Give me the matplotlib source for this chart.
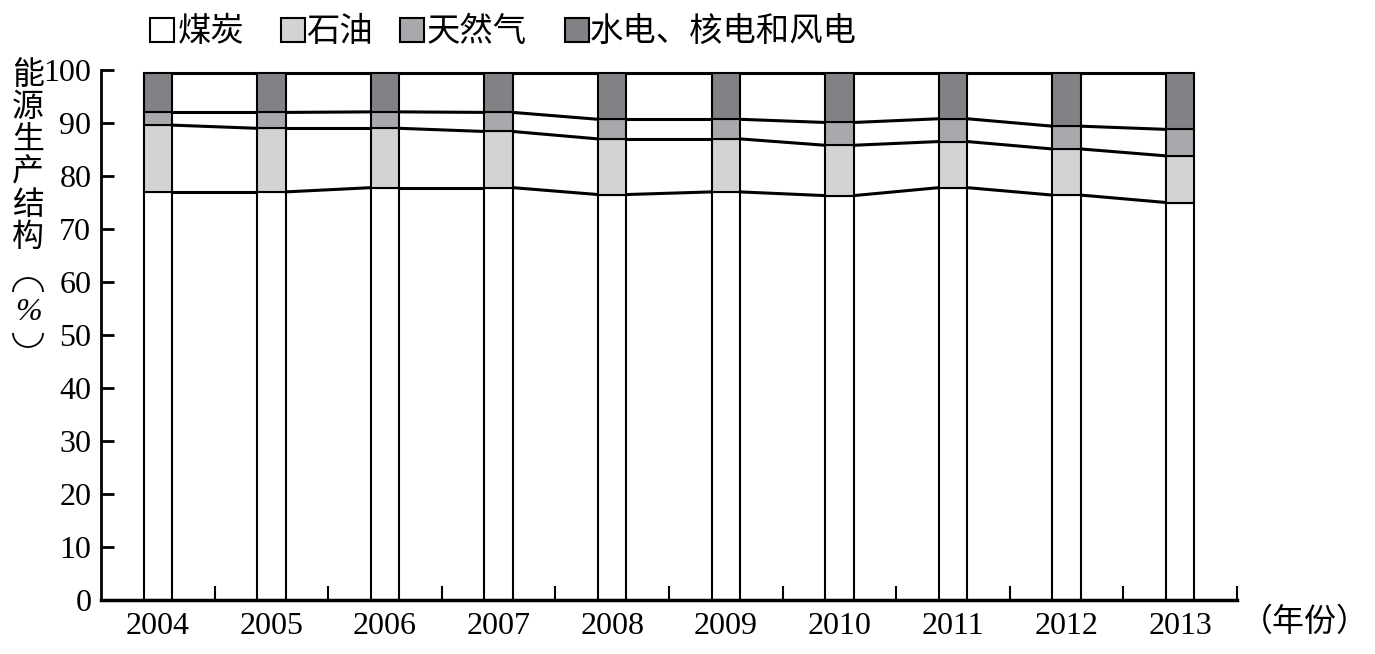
import numpy as np
import matplotlib.pyplot as plt
from matplotlib.patches import Rectangle, Arc

years = ['2004', '2005', '2006', '2007', '2008', '2009', '2010', '2011', '2012', '2013']
names = ['煤炭', '石油', '天然气', '水电、核电和风电']
coal = [77.0, 77.0, 77.8, 77.8, 76.5, 77.0, 76.3, 77.8, 76.4, 75.0]
oil = [12.6, 12.0, 11.2, 10.6, 10.5, 10.0, 9.5, 8.7, 8.7, 8.8]
gas = [2.4, 3.0, 3.1, 3.6, 3.7, 3.7, 4.3, 4.3, 4.3, 5.0]
hydro = [7.5, 7.5, 7.4, 7.5, 8.8, 8.8, 9.4, 8.7, 10.1, 10.7]
colors = ['white', '#d1d3d4', '#a7a9ac', '#808285']

plt.rcParams['font.family'] = ['Liberation Serif', 'Noto Sans CJK SC']
cjk = ['Noto Sans CJK SC', 'DejaVu Sans']

W, H = 1375, 654
fig = plt.figure(figsize=(W / 100, H / 100), dpi=100)
ax = fig.add_axes([101 / W, 54 / H, 1136 / W, 530 / H])

x = np.arange(len(years))
w = 0.25
bottom = np.zeros(len(years))
for vals, c in zip([coal, oil, gas, hydro], colors):
    ax.bar(x, vals, w, bottom=bottom, color=c, edgecolor='black', linewidth=1.5, zorder=2)
    bottom = bottom + np.array(vals)
    # lines joining the tops of each segment between bars
    for i in range(len(x) - 1):
        ax.plot([x[i] + w / 2, x[i + 1] - w / 2], [bottom[i], bottom[i + 1]],
                color='black', lw=2.2, solid_capstyle='butt', zorder=3)

ax.set_xlim(-0.5, len(years) - 0.5)
ax.set_ylim(0, 100)
ax.spines['top'].set_visible(False)
ax.spines['right'].set_visible(False)
ax.spines['left'].set_linewidth(2)
ax.spines['bottom'].set_linewidth(2.5)

ax.set_yticks(np.arange(0, 101, 10))
ax.tick_params(axis='y', direction='in', length=9, width=2, labelsize=23, pad=7)
ax.set_xticks(x)
ax.set_xticklabels(years)
ax.tick_params(axis='x', which='major', length=0, labelsize=23, pad=9)
ax.set_xticks(np.arange(0.5, len(years), 1), minor=True)
ax.tick_params(axis='x', which='minor', direction='in', length=10, width=1.5)

# legend drawn by hand along the top
leg_sq = [150, 281, 400, 565]
leg_tx = [178, 306, 427, 590]
for sx, tx, name, c in zip(leg_sq, leg_tx, names, colors):
    fig.patches.append(Rectangle((sx / W, 1 - 42 / H), 24 / W, 24 / H, transform=fig.transFigure,
                                 facecolor=c, edgecolor='black', linewidth=1.5))
    fig.text(tx / W, 1 - 31 / H, name, fontsize=24, family=cjk, va='center', ha='left')

# vertical y label, brackets drawn as arcs (vertical text style)
ylab = ['能', '源', '生', '产', '结', '构']
for k, ch in enumerate(ylab):
    fig.text(28 / W, 1 - (75 + 32.4 * k) / H, ch, fontsize=23, family=cjk, ha='center', va='center')
fig.patches.append(Arc((28 / W, 1 - 292 / H), 30 / W, 28 / H, theta1=0, theta2=180,
                       transform=fig.transFigure, color='black', lw=1.3))
fig.text(28 / W, 1 - 312 / H, '%', fontsize=23, ha='center', va='center', style='italic')
fig.patches.append(Arc((28 / W, 1 - 333 / H), 30 / W, 28 / H, theta1=180, theta2=360,
                       transform=fig.transFigure, color='black', lw=1.3))

fig.text(1305 / W, 1 - 622 / H, '（年份）', fontsize=23, family=cjk, ha='center', va='center')

fig.savefig('out.png', dpi=100)
